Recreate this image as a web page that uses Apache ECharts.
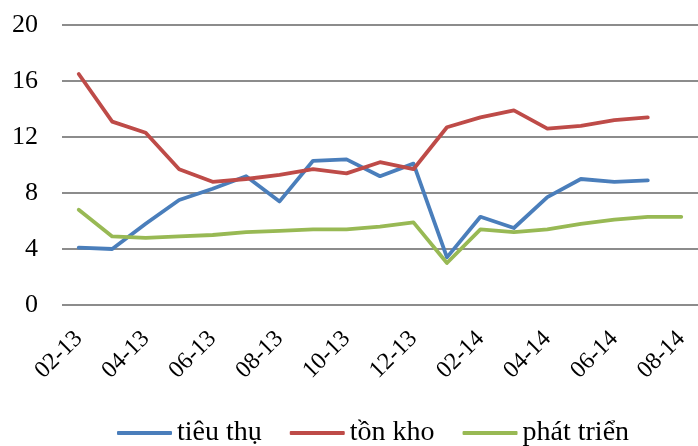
<!DOCTYPE html>
<html>
<head>
<meta charset="utf-8">
<script src="https://cdn.jsdelivr.net/npm/echarts@6/dist/echarts.min.js"></script>
<style>
  html, body { margin: 0; padding: 0; background: #fff; }
  #chart { width: 698px; height: 446px; }
</style>
</head>
<body>
<div id="chart"></div>
<script>
// thang 02-13 .. 08-14
const months = ['02-13', '03-13', '04-13', '05-13', '06-13', '07-13', '08-13', '09-13', '10-13',
  '11-13', '12-13', '01-14', '02-14', '03-14', '04-14', '05-14', '06-14', '07-14', '08-14']
const tieuThu = [4.1, 4.0, 5.8, 7.5, 8.3, 9.2, 7.4, 10.3, 10.4, 9.2, 10.1, 3.4, 6.3, 5.5, 7.7, 9.0, 8.8, 8.9, null]
const tonKho = [16.5, 13.1, 12.3, 9.7, 8.8, 9.0, 9.3, 9.7, 9.4, 10.2, 9.7, 12.7, 13.4, 13.9, 12.6, 12.8, 13.2, 13.4, null]
const phatTrien = [6.8, 4.9, 4.8, 4.9, 5.0, 5.2, 5.3, 5.4, 5.4, 5.6, 5.9, 3.0, 5.4, 5.2, 5.4, 5.8, 6.1, 6.3, 6.3]
const seriesNames = ['tiêu thụ', 'tồn kho', 'phát triển']
const colors = ['#4A7EBB', '#BE4B48', '#98B954']

const font = 'Liberation Serif, Times New Roman, serif'

const chart = echarts.init(document.getElementById('chart'))

function lineSeries(name, data, color) {
  return {
    name: name,
    type: 'line',
    data: data,
    symbol: 'none',
    smooth: false,
    animation: false,
    lineStyle: { color: color, width: 3.8, cap: 'round', join: 'round' },
    itemStyle: { color: color }
  }
}

chart.setOption({
  backgroundColor: '#fff',
  grid: { left: 62, right: -10, top: 25, bottom: 141 },
  legend: {
    top: 414,
    left: 112,
    itemWidth: 55,
    itemHeight: 4,
    itemGap: 28,
    icon: 'roundRect',
    textStyle: { fontFamily: font, fontSize: 28, color: '#000' },
    data: seriesNames
  },
  xAxis: {
    type: 'category',
    data: months,
    boundaryGap: true,
    axisLine: { show: false },
    axisTick: { show: false },
    axisLabel: {
      interval: 1,
      rotate: 45,
      margin: 30,
      fontFamily: font,
      fontSize: 24,
      color: '#000'
    }
  },
  yAxis: {
    type: 'value',
    min: 0,
    max: 20,
    interval: 4,
    axisLine: { show: false },
    axisTick: { show: false },
    axisLabel: { margin: 24, fontFamily: font, fontSize: 26, color: '#000' },
    splitLine: { lineStyle: { color: '#8C8C8C', width: 2 } }
  },
  series: [
    lineSeries(seriesNames[0], tieuThu, colors[0]),
    lineSeries(seriesNames[1], tonKho, colors[1]),
    lineSeries(seriesNames[2], phatTrien, colors[2])
  ]
})
</script>
</body>
</html>
